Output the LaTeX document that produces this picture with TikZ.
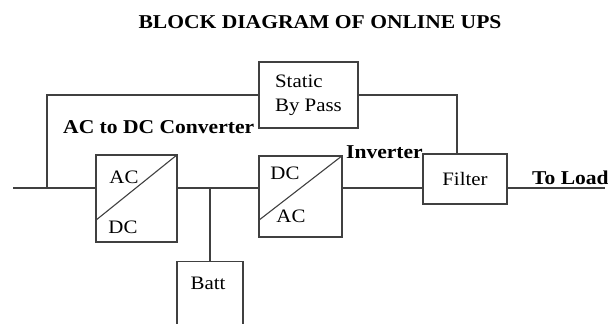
\documentclass[tikz,border=0pt]{standalone}
\usepackage{fontspec}
\setmainfont{Liberation Serif}[FakeStretch=1.1]
\usetikzlibrary{positioning}

\begin{document}
\begin{tikzpicture}[x=1pt,y=-1pt,
    every node/.style={font=\fontsize{19}{24}\selectfont, inner sep=0pt},
    blok/.style={draw=black!75, line width=1.1pt},
    lbl/.style={font=\fontsize{19.6}{24}\selectfont\bfseries},
    wire/.style={draw=black!75, line width=1.1pt}]
   \useasboundingbox (0,0) rectangle (608,324);
   \clip (0,0) rectangle (608,324);
   \node[lbl] (title) at (320,22) {BLOCK DIAGRAM OF ONLINE UPS};
 %% blocks
   \node[blok, minimum width=81pt, minimum height=87pt] (acdc) at (136.5,198.5) {};
   \node[blok, minimum width=83pt, minimum height=81pt] (dcac) at (300.5,196.5) {};
   \node[blok, minimum width=99pt, minimum height=66pt, align=left] (bypass) at (308.5,95) {Static\\By Pass};
   \node[blok, minimum width=84pt, minimum height=50pt] (filter) at (465,179) {Filter};
   \node[blok, minimum width=66pt, minimum height=80pt, anchor=north] (batt) at (210,261) {};
   \draw[wire] (acdc.north east) -- ([yshift=22pt]acdc.south west);
   \draw[wire] (dcac.north east) -- ([yshift=17pt]dcac.south west);
   \node (acin) at (124,177) {AC};
   \node (dcout) at (123,227) {DC};
   \node (dcin) at (285,173) {DC};
   \node (acout) at (291,216) {AC};
   \node (battlbl) at (208,283) {Batt};
   \node[lbl, anchor=base west] (convlbl) at (63,133) {AC to DC Converter};
   \node[lbl, anchor=base east] (invlbl) at (423,158) {Inverter};
   \node[lbl, anchor=base west] (loadlbl) at (532,184) {To Load};
 %% wiring
   \coordinate (mains) at (13,188);
   \coordinate (tap) at (47,188);
   \coordinate (load) at (605,188);
   \draw[wire] (mains) -- (mains -| acdc.west);
 \foreach \a/\b in {acdc/dcac, dcac/filter}
        \draw[wire] (mains -| \a.east) -- (mains -| \b.west);
   \draw[wire] (mains -| filter.east) -- (load);
   \draw[wire] (tap) |- (bypass.west);
   \draw[wire] (bypass.east) -| ([xshift=-8pt]filter.north);
   \draw[wire] (batt.north) -- (mains -| batt.north);
\end{tikzpicture}
\end{document}
